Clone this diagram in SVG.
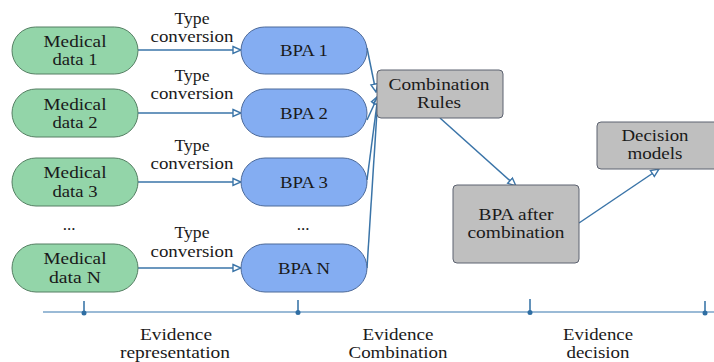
<svg xmlns="http://www.w3.org/2000/svg" width="714" height="362" viewBox="0 0 714 362">
  <style>
    text { font-family: "Liberation Serif", serif; font-size: 17px; fill: #1a1a1a; text-anchor: middle; }
    .data { fill: #93d5a9; stroke: #557f63; stroke-width: 1; }
    .bpa { fill: #84adf2; stroke: #4d6a99; stroke-width: 1; }
    .box { fill: #bfbfbf; stroke: #5c6270; stroke-width: 1; }
    .link { fill: none; stroke: #3a74a8; stroke-width: 1.5; }
    .axis { stroke: #78a3c8; stroke-width: 1.5; }
    .tick { stroke: #2f6ea3; stroke-width: 1.5; }
    .dot { fill: #2f6ea3; }
  </style>
  <defs>
    <marker id="open" viewBox="0 0 10 10" refX="9" refY="5" markerWidth="10" markerHeight="10" markerUnits="userSpaceOnUse" orient="auto">
      <path d="M1,1.5 L9,5 L1,8.5 Z" fill="#ffffff" stroke="#3a74a8" stroke-width="1.4"/>
    </marker>
  </defs>

  <!-- connectors -->
  <g id="connectors">
    <line class="link" x1="138" y1="50" x2="241" y2="50" marker-end="url(#open)"/>
    <line class="link" x1="138" y1="113" x2="241" y2="113" marker-end="url(#open)"/>
    <line class="link" x1="138" y1="182" x2="241" y2="182" marker-end="url(#open)"/>
    <line class="link" x1="138" y1="268" x2="241" y2="268" marker-end="url(#open)"/>
    <line class="link" x1="367" y1="48" x2="376" y2="92" marker-end="url(#open)"/>
    <line class="link" x1="367" y1="120" x2="378" y2="96" marker-end="url(#open)"/>
    <line class="link" x1="367" y1="180" x2="378" y2="96" marker-end="url(#open)"/>
    <line class="link" x1="367" y1="268" x2="378" y2="96" marker-end="url(#open)"/>
    <line class="link" x1="440" y1="118" x2="516" y2="186" marker-end="url(#open)"/>
    <line class="link" x1="579" y1="223" x2="659" y2="169" marker-end="url(#open)"/>
  </g>

  <!-- conversion labels -->
  <g id="labels">
    <text x="192" y="24" textLength="35" lengthAdjust="spacingAndGlyphs">Type</text>
    <text x="192" y="42" textLength="83" lengthAdjust="spacingAndGlyphs">conversion</text>
    <text x="192" y="81" textLength="35" lengthAdjust="spacingAndGlyphs">Type</text>
    <text x="192" y="99" textLength="83" lengthAdjust="spacingAndGlyphs">conversion</text>
    <text x="192" y="151" textLength="35" lengthAdjust="spacingAndGlyphs">Type</text>
    <text x="192" y="169" textLength="83" lengthAdjust="spacingAndGlyphs">conversion</text>
    <text x="192" y="238" textLength="35" lengthAdjust="spacingAndGlyphs">Type</text>
    <text x="192" y="257" textLength="83" lengthAdjust="spacingAndGlyphs">conversion</text>
    <text x="69" y="230">...</text>
    <text x="303" y="230">...</text>
  </g>

  <!-- medical data nodes -->
  <g id="medical-1">
    <rect class="data" x="12" y="27" width="126" height="47" rx="23.5"/>
    <text x="75" y="47" textLength="63" lengthAdjust="spacingAndGlyphs">Medical</text>
    <text x="75" y="65" textLength="45" lengthAdjust="spacingAndGlyphs">data 1</text>
  </g>
  <g id="medical-2">
    <rect class="data" x="12" y="89" width="126" height="48" rx="24"/>
    <text x="75" y="110" textLength="63" lengthAdjust="spacingAndGlyphs">Medical</text>
    <text x="75" y="128" textLength="45" lengthAdjust="spacingAndGlyphs">data 2</text>
  </g>
  <g id="medical-3">
    <rect class="data" x="12" y="158" width="126" height="48" rx="24"/>
    <text x="75" y="178" textLength="63" lengthAdjust="spacingAndGlyphs">Medical</text>
    <text x="75" y="197" textLength="45" lengthAdjust="spacingAndGlyphs">data 3</text>
  </g>
  <g id="medical-n">
    <rect class="data" x="12" y="244" width="126" height="48" rx="24"/>
    <text x="75" y="264" textLength="63" lengthAdjust="spacingAndGlyphs">Medical</text>
    <text x="75" y="283" textLength="52" lengthAdjust="spacingAndGlyphs">data N</text>
  </g>

  <!-- BPA nodes -->
  <g id="bpa-1">
    <rect class="bpa" x="241" y="27" width="126" height="47" rx="23.5"/>
    <text x="304" y="56" textLength="48" lengthAdjust="spacingAndGlyphs">BPA 1</text>
  </g>
  <g id="bpa-2">
    <rect class="bpa" x="241" y="89" width="126" height="48" rx="24"/>
    <text x="304" y="119" textLength="48" lengthAdjust="spacingAndGlyphs">BPA 2</text>
  </g>
  <g id="bpa-3">
    <rect class="bpa" x="241" y="158" width="126" height="48" rx="24"/>
    <text x="304" y="188" textLength="48" lengthAdjust="spacingAndGlyphs">BPA 3</text>
  </g>
  <g id="bpa-n">
    <rect class="bpa" x="241" y="244" width="126" height="48" rx="24"/>
    <text x="304" y="274" textLength="52" lengthAdjust="spacingAndGlyphs">BPA N</text>
  </g>

  <!-- combination and decision boxes -->
  <g id="combination-rules">
    <rect class="box" x="377" y="70" width="126" height="48" rx="4"/>
    <text x="439" y="90" textLength="101" lengthAdjust="spacingAndGlyphs">Combination</text>
    <text x="439" y="108" textLength="44" lengthAdjust="spacingAndGlyphs">Rules</text>
  </g>
  <g id="bpa-after">
    <rect class="box" x="453" y="185" width="126" height="78" rx="4"/>
    <text x="516" y="220" textLength="75" lengthAdjust="spacingAndGlyphs">BPA after</text>
    <text x="516" y="238" textLength="97" lengthAdjust="spacingAndGlyphs">combination</text>
  </g>
  <g id="decision-models">
    <rect class="box" x="597" y="122" width="126" height="47" rx="4"/>
    <text x="655" y="141" textLength="67" lengthAdjust="spacingAndGlyphs">Decision</text>
    <text x="655" y="159" textLength="55" lengthAdjust="spacingAndGlyphs">models</text>
  </g>

  <!-- stage axis -->
  <g id="stage-axis">
    <line class="axis" x1="43" y1="312" x2="714" y2="312"/>
    <line class="tick" x1="84" y1="301" x2="84" y2="312"/>
    <line class="tick" x1="298" y1="300" x2="298" y2="312"/>
    <line class="tick" x1="530" y1="299" x2="530" y2="312"/>
    <line class="tick" x1="705" y1="301" x2="705" y2="312"/>
    <circle class="dot" cx="84" cy="313" r="2.5"/>
    <circle class="dot" cx="298" cy="312.5" r="2.5"/>
    <circle class="dot" cx="530" cy="312.5" r="2.5"/>
    <circle class="dot" cx="705" cy="313" r="2.5"/>
    <text x="176" y="340" textLength="72" lengthAdjust="spacingAndGlyphs">Evidence</text>
    <text x="175" y="358" textLength="110" lengthAdjust="spacingAndGlyphs">representation</text>
    <text x="398" y="340" textLength="71" lengthAdjust="spacingAndGlyphs">Evidence</text>
    <text x="398" y="358" textLength="99" lengthAdjust="spacingAndGlyphs">Combination</text>
    <text x="598" y="340" textLength="70" lengthAdjust="spacingAndGlyphs">Evidence</text>
    <text x="598" y="358" textLength="63" lengthAdjust="spacingAndGlyphs">decision</text>
  </g>
</svg>
